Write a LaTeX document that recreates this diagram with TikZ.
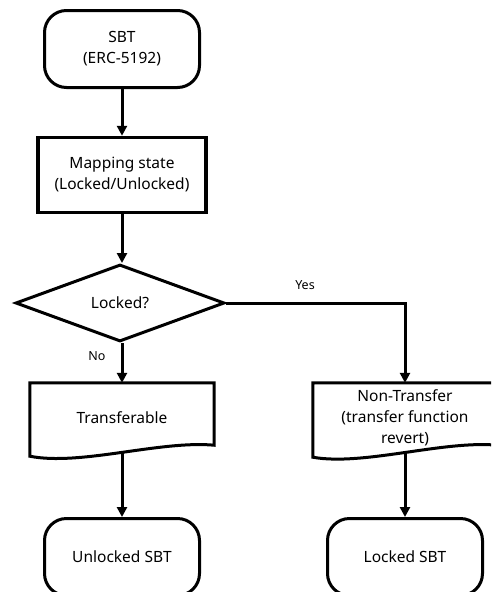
\documentclass[tikz,border=0pt]{standalone}
\usepackage{fontspec}
\setmainfont{Noto Sans}
\usepackage{tikz}
\usetikzlibrary{shapes.geometric,arrows.meta}

\tikzset{
	every node/.style={font=\fontsize{15.5}{21}\selectfont, align=center},
	terminal/.style={draw, line width=3pt, rounded corners=22pt, minimum width=155pt, minimum height=77pt},
	process/.style={draw, line width=3.5pt, minimum width=168pt, minimum height=75pt},
	decision/.style={draw, shape=diamond, line width=3pt, inner sep=0pt, minimum width=209pt, minimum height=77pt},
	docbox/.style={minimum width=184pt, minimum height=70pt},
	arrow/.style={line width=3pt, -{Triangle[length=10pt,width=10pt]}},
	small/.style={font=\fontsize{12.5}{14}\selectfont}
}

\begin{document}
\begin{tikzpicture}[x=1pt, y=1pt]
	\useasboundingbox (0,0) rectangle (491,-592);
	\clip (0,0) rectangle (491,-592);

	\node[terminal] (1) at (122,-49) {SBT\\(ERC-5192)};
	\node[process] (2) at (122,-175) {Mapping state\\(Locked/Unlocked)};
	\node[decision] (3) at (120,-303) {Locked?};
	\node[docbox] (4) at (122,-418) {Transferable};
	\node[docbox] (5) at (405,-418) {Non-Transfer\\(transfer function\\revert)};
	\node[terminal] (6) at (122,-557) {Unlocked SBT};
	\node[terminal] (7) at (405,-557) {Locked SBT};

	% document outlines
	\draw[line width=3pt, line join=miter] ([yshift=-3pt]4.south west) -- (4.north west) -- (4.north east) -- ([yshift=8pt]4.south east)
		.. controls ([xshift=-54pt, yshift=13pt]4.south east) and ([xshift=50pt, yshift=-13pt]4.south west) .. ([yshift=-3pt]4.south west) -- cycle;
	\draw[line width=3pt, line join=miter] ([yshift=-4pt]5.south west) -- (5.north west) -- (5.north east) -- ([yshift=8pt]5.south east)
		.. controls ([xshift=-54pt, yshift=13pt]5.south east) and ([xshift=50pt, yshift=-13pt]5.south west) .. ([yshift=-4pt]5.south west) -- cycle;

	\path [arrow] (1) edge (2);
	\path [arrow] (2) edge ([xshift=2pt]3.north);
	\path [arrow] ([xshift=2pt]3.south) edge (4);
	\draw [arrow] (3.east) -| (5.north);
	\path [arrow] (4.south) edge (6);
	\path [arrow] (5.south) edge (7);

	\node[small] (yes) at (305,-285) {Yes};
	\node[small] (no) at (97,-356) {No};
\end{tikzpicture}
\end{document}
